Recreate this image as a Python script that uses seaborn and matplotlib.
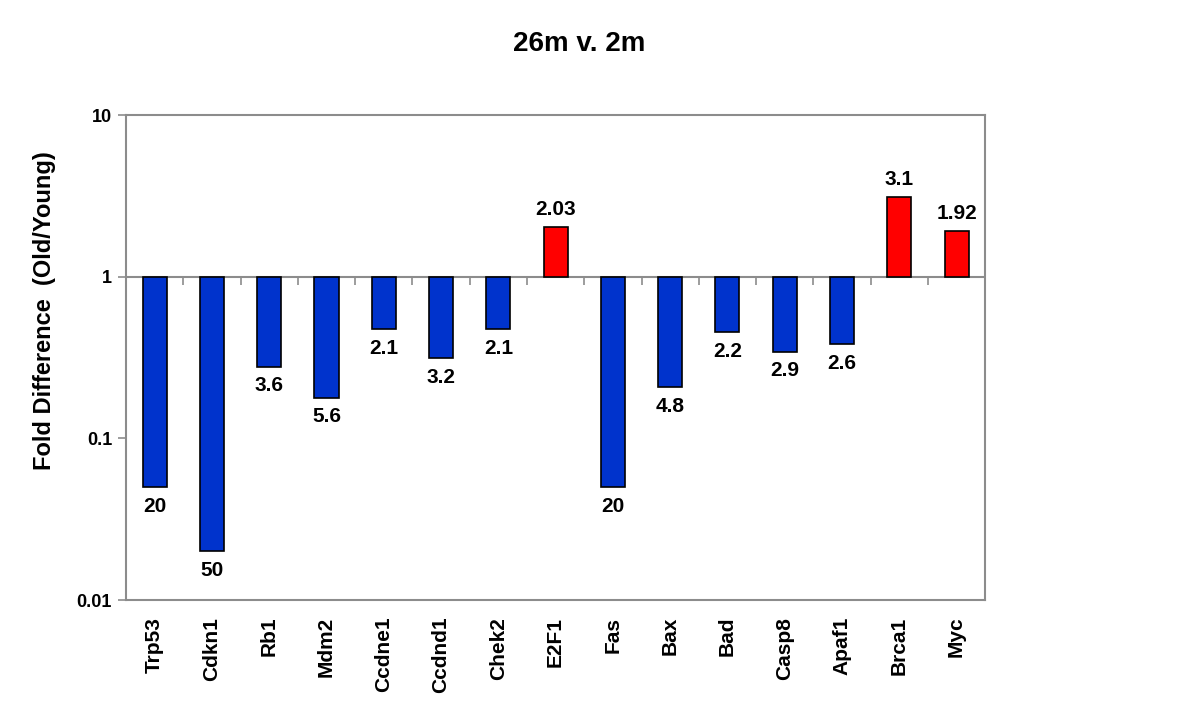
import matplotlib
matplotlib.use("Agg")
import matplotlib.pyplot as plt
import matplotlib.markers as mmarkers
import numpy as np
import seaborn as sns

# genes and fold difference (old/young); labels show fold change magnitude
genes = ["Trp53", "Cdkn1", "Rb1", "Mdm2", "Ccdne1", "Ccdnd1", "Chek2", "E2F1",
         "Fas", "Bax", "Bad", "Casp8", "Apaf1", "Brca1", "Myc"]
fold_labels = ["20", "50", "3.6", "5.6", "2.1", "3.2", "2.1", "2.03",
               "20", "4.8", "2.2", "2.9", "2.6", "3.1", "1.92"]
direction = ["down", "down", "down", "down", "down", "down", "down", "up",
             "down", "down", "down", "down", "down", "up", "up"]
fold = [20, 50, 3.6, 5.6, 2.1, 3.2, 2.1, 2.03, 20, 4.8, 2.2, 2.9, 2.6, 3.1, 1.92]

values = [f if d == "up" else 1.0 / f for f, d in zip(fold, direction)]
colors = {"down": "#0033CC", "up": "#FF0000"}
frame_col = "#8c8c8c"

sns.set_style("white")
plt.rcParams["font.family"] = ["Liberation Sans", "DejaVu Sans"]
plt.rcParams["font.weight"] = "bold"
plt.rcParams["text.color"] = "black"
plt.rcParams["xtick.color"] = "black"
plt.rcParams["ytick.color"] = "black"

fig = plt.figure(figsize=(12, 7.11), dpi=100)
ax = fig.add_axes([0.105, 0.156, 0.716, 0.682])

# bars start at 1 on the log axis
heights = [v - 1 for v in values]
sns.barplot(x=genes, y=heights, hue=direction, palette=colors, bottom=1,
            saturation=1, width=0.42, edgecolor="black", linewidth=1.2,
            legend=False, ax=ax, zorder=3)
ax.set_yscale("log")
ax.set_ylim(0.01, 10)
ax.set_xlim(-0.5, len(genes) - 0.5)

# reference line at 1 with small ticks between categories
ax.axhline(1, color=frame_col, lw=1.5, zorder=2)
ax.plot(np.arange(len(genes) - 1) + 0.5, [1] * (len(genes) - 1), ls="none",
        marker=mmarkers.TICKDOWN, ms=6, mew=1.2, color=frame_col, zorder=2)

for i, (v, lab) in enumerate(zip(values, fold_labels)):
    if v >= 1:
        ax.annotate(lab, (i, v), xytext=(0, 6), textcoords="offset points",
                    ha="center", va="bottom", fontsize=15, fontweight="bold",
                    color="black")
    else:
        ax.annotate(lab, (i, v), xytext=(0, -7), textcoords="offset points",
                    ha="center", va="top", fontsize=15, fontweight="bold",
                    color="black")

ax.set_yticks([0.01, 0.1, 1, 10])
ax.set_yticklabels(["0.01", "0.1", "1", "10"], fontsize=13, fontweight="bold",
                   color="black")
ax.yaxis.set_minor_locator(matplotlib.ticker.NullLocator())
ax.tick_params(axis="y", which="major", direction="out", length=6, width=1.2,
               color=frame_col, labelcolor="black", left=True, pad=4)
ax.set_xticks(range(len(genes)))
ax.set_xticklabels(genes, rotation=90, fontsize=15, fontweight="bold",
                   color="black")
ax.tick_params(axis="x", length=0, pad=12)

for s in ax.spines.values():
    s.set_visible(True)
    s.set_color(frame_col)
    s.set_linewidth(1.5)

ax.set_xlabel("")
ax.set_ylabel("")
fig.text(0.0375, 0.563, "Fold Difference  (Old/Young)", rotation=90,
         ha="center", va="center", fontsize=17, fontweight="bold", color="black")
fig.text(0.483, 0.938, "26m v. 2m", ha="center", va="center",
         fontsize=20, fontweight="bold", color="black")

fig.savefig("out.png", dpi=100, facecolor="white")
